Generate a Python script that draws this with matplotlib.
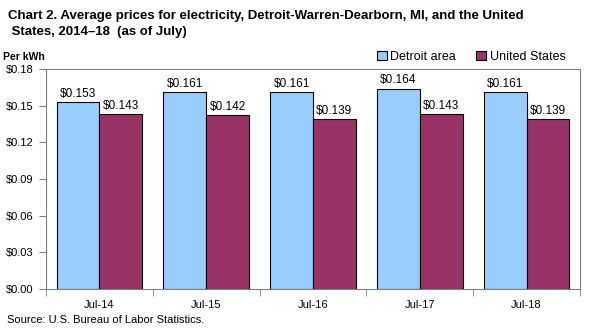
import matplotlib
matplotlib.use("Agg")
import matplotlib.pyplot as plt
import numpy as np

plt.rcParams['font.family'] = ['Liberation Sans', 'DejaVu Sans']

categories = ['Jul-14', 'Jul-15', 'Jul-16', 'Jul-17', 'Jul-18']
detroit = [0.153, 0.161, 0.161, 0.164, 0.161]
us = [0.143, 0.142, 0.139, 0.143, 0.139]
yticks = [0.00, 0.03, 0.06, 0.09, 0.12, 0.15, 0.18]

fig = plt.figure(figsize=(5.9, 3.3), dpi=100)
ax = fig.add_axes([0.078, 0.124, 0.905, 0.667])

x = np.arange(len(categories))
w = 0.4
b1 = ax.bar(x - w / 2, detroit, w, color='#99CCFF', edgecolor='black', linewidth=0.8, label='Detroit area')
b2 = ax.bar(x + w / 2, us, w, color='#993366', edgecolor='black', linewidth=0.8, label='United States')

for bars, vals in ((b1, detroit), (b2, us)):
    for r, v in zip(bars, vals):
        ax.text(r.get_x() + r.get_width() / 2, v + 0.002, f'${v:.3f}',
                ha='center', va='bottom', fontsize=8.5)

ax.set_xlim(-0.5, len(categories) - 0.5)
ax.set_ylim(0, 0.18)
ax.set_yticks(yticks)
ax.set_yticklabels([f'${t:.2f}' for t in yticks], fontsize=8)
ax.set_xticks(x)
ax.set_xticklabels(categories, fontsize=8)
ax.set_xticks(np.arange(len(categories) + 1) - 0.5, minor=True)
ax.tick_params(axis='x', which='major', length=0, pad=8)
ax.tick_params(axis='x', which='minor', length=5, color='#808080')
ax.tick_params(axis='y', length=5, color='#808080', pad=4)
for s in ax.spines.values():
    s.set_color('#808080')

fig.text(0.014, 0.97, 'Chart 2. Average prices for electricity, Detroit-Warren-Dearborn, MI, and the United\n States, 2014\u201318  (as of July)',
         ha='left', va='top', fontsize=9.5, fontweight='bold', linespacing=1.4)
fig.text(0.005, 0.828, 'Per kWh', ha='left', va='center', fontsize=7.5, fontweight='bold')
fig.text(0.012, 0.03, 'Source: U.S. Bureau of Labor Statistics.', ha='left', va='center', fontsize=8)

ax.legend(loc='lower right', bbox_to_anchor=(0.985, 1.0), ncol=2, frameon=False,
          fontsize=9, handlelength=0.8, handleheight=0.8, handletextpad=0.3,
          columnspacing=1.6, borderaxespad=0.1)

fig.savefig('out.png', dpi=100)
